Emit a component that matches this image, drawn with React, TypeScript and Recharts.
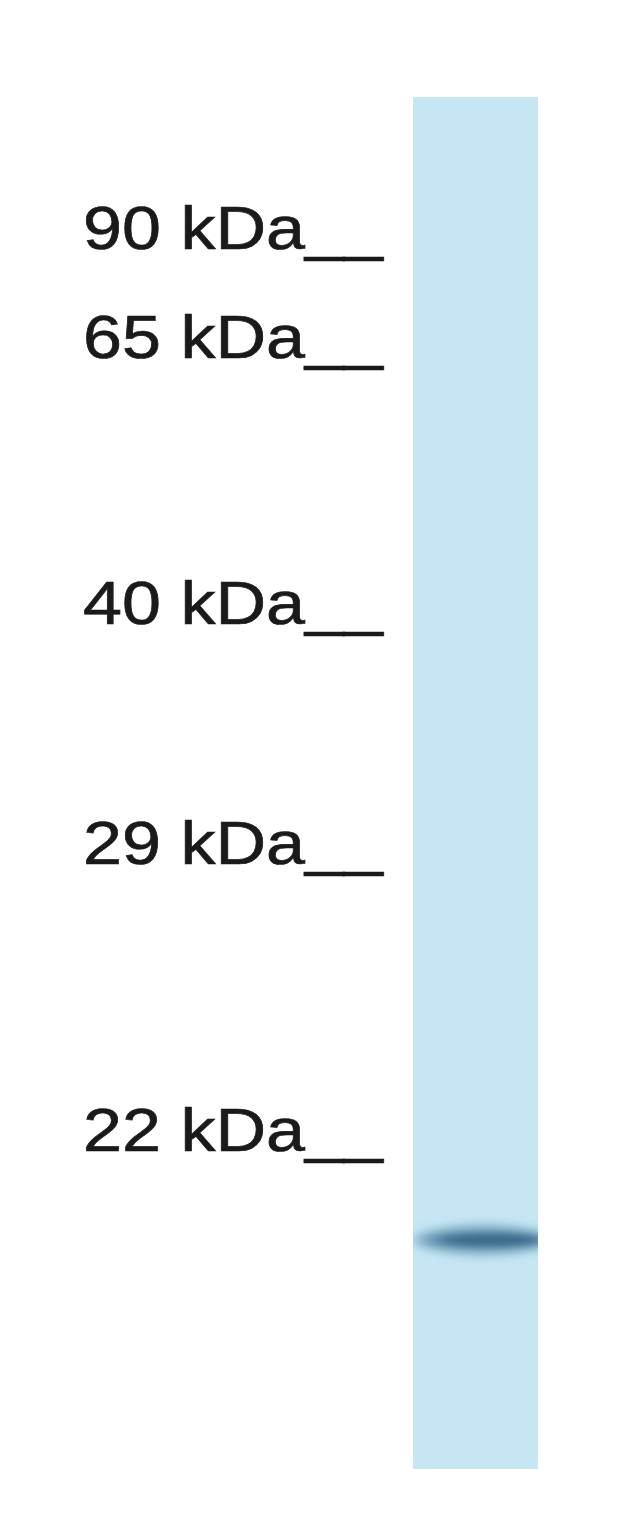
import { ComposedChart, XAxis, YAxis, ReferenceArea, Scatter } from "recharts"

// marker ladder (underline position on the blot, px from top)
const markerLabels = ["90 kDa", "65 kDa", "40 kDa", "29 kDa", "22 kDa"]
const markerPositions = [258, 367, 633, 873, 1160]

// detected bands in the lane
const bandPositions = [1240]
const bandIntensities = [0.95]

// lane extent along the migration axis
const laneRange = [97, 1469]

const W = 640
const H = 1516
const AXIS_W = 1
const LANE_LEFT = 413
const LANE_RIGHT = 538
const LANE_CENTER = (LANE_LEFT + LANE_RIGHT) / 2

const bands = bandPositions.map((y, i) => ({ x: LANE_CENTER, y, intensity: bandIntensities[i] }))

function MarkerTick(props: any) {
  const { y, payload } = props
  const i = markerPositions.indexOf(payload.value)
  return (
    <text
      x={83}
      y={y - 9}
      fontSize={62}
      textLength={300}
      lengthAdjust="spacingAndGlyphs"
      fontFamily="'Liberation Sans', Arial, sans-serif"
      fill="#1a1a1a"
      stroke="#1a1a1a"
      strokeWidth={0.7}
    >
      {markerLabels[i]}__
    </text>
  )
}

function BandShape(props: any) {
  const { cx, cy, payload } = props
  const k = payload.intensity
  return (
    <g>
      <defs>
        <filter id="bandBlur" x="-30%" y="-200%" width="160%" height="500%">
          <feGaussianBlur stdDeviation="7 5" />
        </filter>
        <filter id="coreBlur" x="-30%" y="-300%" width="160%" height="700%">
          <feGaussianBlur stdDeviation="9 3.5" />
        </filter>
        <clipPath id="laneClip">
          <rect x={LANE_LEFT} y={cy - 60} width={LANE_RIGHT - LANE_LEFT} height={120} />
        </clipPath>
      </defs>
      <g clipPath="url(#laneClip)">
        <ellipse cx={cx + 8} cy={cy} rx={68} ry={15} fill="#6595b2" fillOpacity={0.8 * k} filter="url(#bandBlur)" />
        <ellipse cx={cx + 14} cy={cy} rx={54} ry={7} fill="#2f5f80" fillOpacity={0.9 * k} filter="url(#coreBlur)" />
      </g>
    </g>
  )
}

export default function App() {
  return (
    <div style={{ position: "absolute", left: 0, top: 0, width: W, height: H, background: "#fff" }}>
      <ComposedChart width={W} height={H} data={bands} margin={{ top: 0, right: 0, bottom: 0, left: 0 }}>
        <XAxis type="number" dataKey="x" domain={[AXIS_W, W]} allowDataOverflow hide />
        <YAxis
          type="number"
          dataKey="y"
          domain={[0, H]}
          allowDataOverflow
          reversed
          width={AXIS_W}
          ticks={markerPositions}
          interval={0}
          axisLine={false}
          tickLine={false}
          tick={(p: any) => <MarkerTick {...p} />}
        />
        <ReferenceArea
          x1={LANE_LEFT}
          x2={LANE_RIGHT}
          y1={laneRange[0]}
          y2={laneRange[1]}
          fill="#c6e6f4"
          fillOpacity={1}
          stroke="none"
        />
        <Scatter data={bands} dataKey="y" shape={<BandShape />} isAnimationActive={false} />
      </ComposedChart>
    </div>
  )
}
